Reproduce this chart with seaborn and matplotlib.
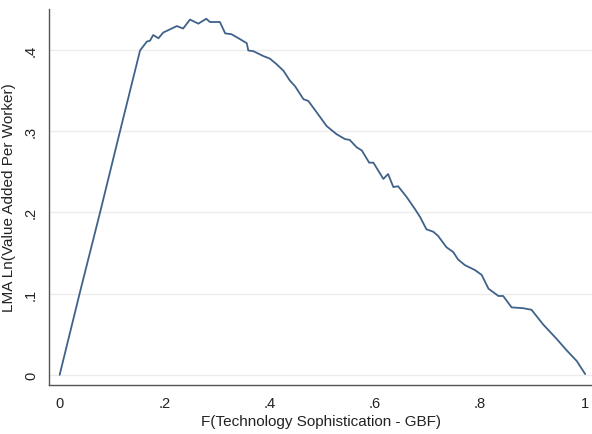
import pandas as pd
import matplotlib
matplotlib.use("Agg")
import matplotlib.pyplot as plt
import seaborn as sns

# values
tech_share = [0.0, 0.038, 0.077, 0.115, 0.153, 0.166, 0.172, 0.178, 0.188, 0.197,
              0.210, 0.223, 0.235, 0.248, 0.264, 0.279, 0.286, 0.305, 0.315, 0.327,
              0.343, 0.356, 0.359, 0.369, 0.388, 0.400, 0.413, 0.426, 0.438, 0.448,
              0.464, 0.473, 0.489, 0.508, 0.527, 0.543, 0.552, 0.565, 0.575, 0.589,
              0.597, 0.616, 0.625, 0.635, 0.644, 0.660, 0.676, 0.686, 0.698, 0.711,
              0.720, 0.736, 0.749, 0.758, 0.771, 0.790, 0.803, 0.816, 0.835, 0.844,
              0.860, 0.882, 0.898, 0.920, 0.946, 0.965, 0.984, 1.0]
lma_value = [0.0, 0.100, 0.200, 0.300, 0.399, 0.410, 0.411, 0.418, 0.414, 0.421,
             0.425, 0.429, 0.426, 0.437, 0.432, 0.438, 0.434, 0.434, 0.420, 0.419,
             0.413, 0.408, 0.399, 0.398, 0.392, 0.389, 0.382, 0.374, 0.362, 0.355,
             0.339, 0.337, 0.323, 0.306, 0.296, 0.290, 0.289, 0.280, 0.276, 0.261,
             0.261, 0.241, 0.247, 0.231, 0.232, 0.219, 0.204, 0.194, 0.179, 0.176,
             0.171, 0.157, 0.151, 0.142, 0.135, 0.129, 0.123, 0.106, 0.097, 0.097,
             0.083, 0.082, 0.080, 0.062, 0.044, 0.030, 0.017, 0.001]

x_ticks = [0, 0.2, 0.4, 0.6, 0.8, 1.0]
x_tick_labels = ["0", ".2", ".4", ".6", ".8", "1"]
y_ticks = [0, 0.1, 0.2, 0.3, 0.4]
y_tick_labels = ["0", ".1", ".2", ".3", ".4"]


def main():
    df = pd.DataFrame({"tech": tech_share, "lma": lma_value})

    sns.set_style("white")
    plt.rcParams["font.family"] = ["Liberation Sans", "DejaVu Sans"]

    fig = plt.figure(figsize=(5.92, 4.35), dpi=100)
    ax = fig.add_axes([0.083, 0.113, 0.917, 0.864])

    sns.lineplot(data=df, x="tech", y="lma", ax=ax, color="#40628a", linewidth=1.3)

    ax.set_xlim(-0.02, 1.013)
    ax.set_ylim(-0.0123, 0.45)
    ax.set_xticks(x_ticks, x_tick_labels)
    ax.set_yticks(y_ticks, y_tick_labels)
    ax.tick_params(axis="y", labelrotation=90)
    for lbl in ax.get_yticklabels():
        lbl.set_va("center")
    ax.tick_params(direction="out", length=5, width=1, color="#555555",
                   labelsize=10.5, labelcolor="#222222", pad=3)

    ax.yaxis.grid(True, color="#ececec", linewidth=1)
    ax.xaxis.grid(False)
    for side in ["top", "right"]:
        ax.spines[side].set_visible(False)
    for side in ["left", "bottom"]:
        ax.spines[side].set_color("#555555")
        ax.spines[side].set_linewidth(1)

    ax.set_xlabel("F(Technology Sophistication - GBF)", fontsize=11, color="#222222", labelpad=3)
    ax.set_ylabel("LMA Ln(Value Added Per Worker)", fontsize=11, color="#222222", labelpad=6)

    fig.savefig("out.png", dpi=100)


if __name__ == "__main__":
    main()
